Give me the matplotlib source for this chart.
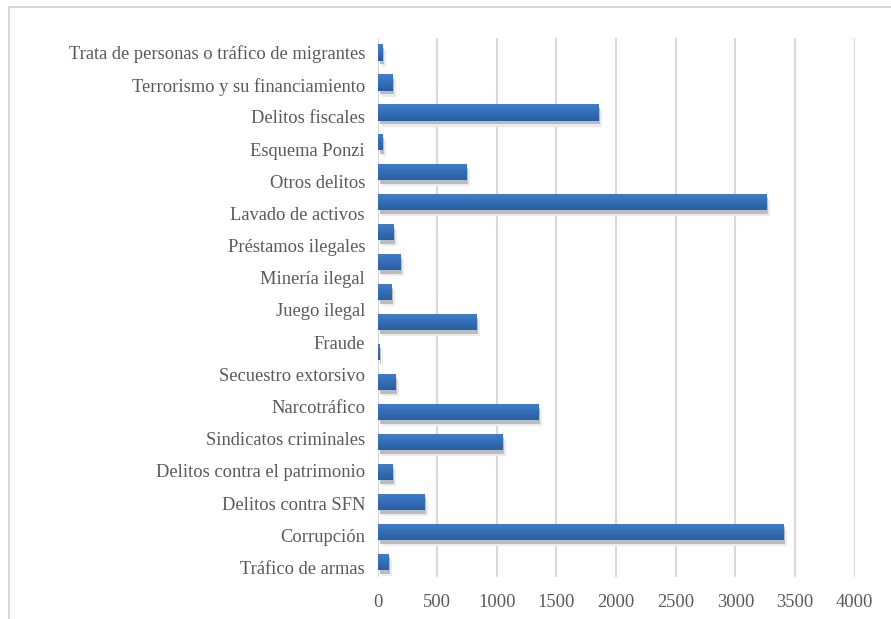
import numpy as np
import matplotlib
matplotlib.use("Agg")
import matplotlib.pyplot as plt
from matplotlib.transforms import offset_copy
from matplotlib.colors import LinearSegmentedColormap
from matplotlib.patches import Rectangle

# Category labels as printed (17 labels shown along the axis)
labels = [
    "Trata de personas o tráfico de migrantes",
    "Terrorismo y su financiamiento",
    "Delitos fiscales",
    "Esquema Ponzi",
    "Otros delitos",
    "Lavado de activos",
    "Préstamos ilegales",
    "Minería ilegal",
    "Juego ilegal",
    "Fraude",
    "Secuestro extorsivo",
    "Narcotráfico",
    "Sindicatos criminales",
    "Delitos contra el patrimonio",
    "Delitos contra SFN",
    "Corrupción",
    "Tráfico de armas",
]
# Bar values, top to bottom (18 bars drawn)
values = [40, 120, 1845, 40, 740, 3255, 130, 190, 115, 825, 10, 145,
          1345, 1045, 120, 390, 3395, 90]
xticks = [0, 500, 1000, 1500, 2000, 2500, 3000, 3500, 4000]

W, H = 891, 619
fig = plt.figure(figsize=(W / 100, H / 100), dpi=100)
plt.rcParams['font.family'] = ['Liberation Serif', 'DejaVu Serif']
ax = fig.add_axes([377.5 / W, 1 - 577 / H, (854.8 - 377.5) / W, (577 - 37.5) / H])

n = len(values)
ypos = np.arange(n)
bh = 0.54

# shadows
sh2 = offset_copy(ax.transData, fig=fig, x=4, y=-6, units='dots')
sh1 = offset_copy(ax.transData, fig=fig, x=2, y=-3.5, units='dots')
ax.barh(ypos, values, height=bh, color='#ebebeb', transform=sh2, zorder=2)
ax.barh(ypos, values, height=bh, color='#bcbcbc', transform=sh1, zorder=3)

bars = ax.barh(ypos, values, height=bh, color='#3470ba', zorder=4)
cmap = LinearSegmentedColormap.from_list('g', ['#3f7fd0', '#2c5e9c'])
grad = np.linspace(0, 1, 64).reshape(-1, 1)
for b, y, v in zip(bars, ypos, values):
    im = ax.imshow(grad, cmap=cmap, aspect='auto', zorder=5,
                   extent=[0, v, y + bh / 2, y - bh / 2], interpolation='bilinear')
    im.set_clip_path(b)

ax.set_xlim(0, 4000)
ax.set_ylim(n - 0.5, -0.5)
ax.set_xticks(xticks)
ax.set_xticklabels([str(t) for t in xticks])
label_pos = np.linspace(0, n - 1 + 0.18, len(labels))
ax.set_yticks(label_pos)
ax.set_yticklabels(labels)
ax.tick_params(axis='both', length=0, labelsize=13.3, colors='#595959')
ax.tick_params(axis='y', pad=9)
ax.tick_params(axis='x', pad=12)
ax.grid(axis='x', color='#d9d9d9', linewidth=1.5, zorder=0)
ax.set_axisbelow(True)
for s in ax.spines.values():
    s.set_visible(False)

fig.patches.append(Rectangle((9 / W, -0.1), 1.2, 1 - 7 / H + 0.1,
                             transform=fig.transFigure, fill=False,
                             edgecolor='#d9d9d9', linewidth=1.5, zorder=-1))

fig.savefig('out.png', dpi=100)
